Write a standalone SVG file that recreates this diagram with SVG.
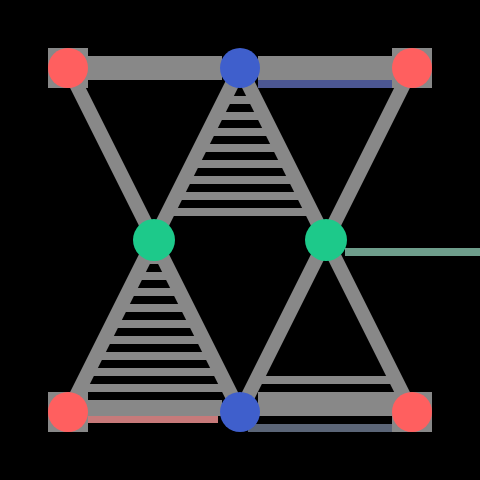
<svg xmlns="http://www.w3.org/2000/svg" width="480" height="480" viewBox="0 0 480 480">
<style>
.edge{stroke:#888888;stroke-width:14;fill:none}
.hatch{stroke:#888888;stroke-width:8;fill:none}
.band{fill:#888888}
.red{fill:#ff5f5f}
.blue{fill:#3f5fcc}
.green{fill:#1dc98a}
.pad{fill:#888888}
</style>
<rect x="0" y="0" width="480" height="480" fill="#000000"/>
<g id="connectors">
  <rect x="258" y="80" width="136" height="8" fill="#4c5793"/>
  <rect x="88" y="415" width="130" height="8" fill="#c77a7a"/>
  <rect x="248" y="424" width="146" height="8" fill="#5b6577"/>
  <rect x="345" y="248" width="135" height="8" fill="#6e9d8b"/>
  <rect class="band" x="88" y="56" width="134" height="24"/>
  <rect class="band" x="258" y="56" width="136" height="24"/>
  <rect class="band" x="88" y="400" width="134" height="16"/>
  <rect class="band" x="258" y="392" width="136" height="24"/>
  <g id="hatch-top">
    <line class="hatch" x1="224" y1="100" x2="256" y2="100"/>
    <line class="hatch" x1="216" y1="116" x2="264" y2="116"/>
    <line class="hatch" x1="208" y1="132" x2="272" y2="132"/>
    <line class="hatch" x1="200" y1="148" x2="280" y2="148"/>
    <line class="hatch" x1="192" y1="164" x2="288" y2="164"/>
    <line class="hatch" x1="184" y1="180" x2="296" y2="180"/>
    <line class="hatch" x1="176" y1="196" x2="304" y2="196"/>
    <line class="hatch" x1="168" y1="212" x2="312" y2="212"/>
  </g>
  <g id="hatch-left">
    <line class="hatch" x1="144" y1="260" x2="164" y2="260"/>
    <line class="hatch" x1="136" y1="276" x2="172" y2="276"/>
    <line class="hatch" x1="128" y1="292" x2="180" y2="292"/>
    <line class="hatch" x1="120" y1="308" x2="188" y2="308"/>
    <line class="hatch" x1="112" y1="324" x2="196" y2="324"/>
    <line class="hatch" x1="104" y1="340" x2="204" y2="340"/>
    <line class="hatch" x1="96" y1="356" x2="212" y2="356"/>
    <line class="hatch" x1="88" y1="372" x2="220" y2="372"/>
    <line class="hatch" x1="80" y1="388" x2="228" y2="388"/>
  </g>
  <line class="hatch" x1="256" y1="380" x2="396" y2="380"/>
  <line class="edge" x1="68" y1="68" x2="240" y2="412"/>
  <line class="edge" x1="240" y1="68" x2="68" y2="412"/>
  <line class="edge" x1="240" y1="68" x2="412" y2="412"/>
  <line class="edge" x1="412" y1="68" x2="240" y2="412"/>
</g>
<g id="n-tl"><rect class="pad" x="48" y="48" width="40" height="40"/><circle class="red" cx="68" cy="68" r="20"/></g>
<g id="n-tm"><circle class="blue" cx="240" cy="68" r="20"/></g>
<g id="n-tr"><rect class="pad" x="392" y="48" width="40" height="40"/><circle class="red" cx="412" cy="68" r="20"/></g>
<g id="n-ml"><circle class="green" cx="154" cy="240" r="21"/></g>
<g id="n-mr"><circle class="green" cx="326" cy="240" r="21"/></g>
<g id="n-bl"><rect class="pad" x="48" y="392" width="40" height="40"/><circle class="red" cx="68" cy="412" r="20"/></g>
<g id="n-bm"><circle class="blue" cx="240" cy="412" r="20"/></g>
<g id="n-br"><rect class="pad" x="392" y="392" width="40" height="40"/><circle class="red" cx="412" cy="412" r="20"/></g>
</svg>
